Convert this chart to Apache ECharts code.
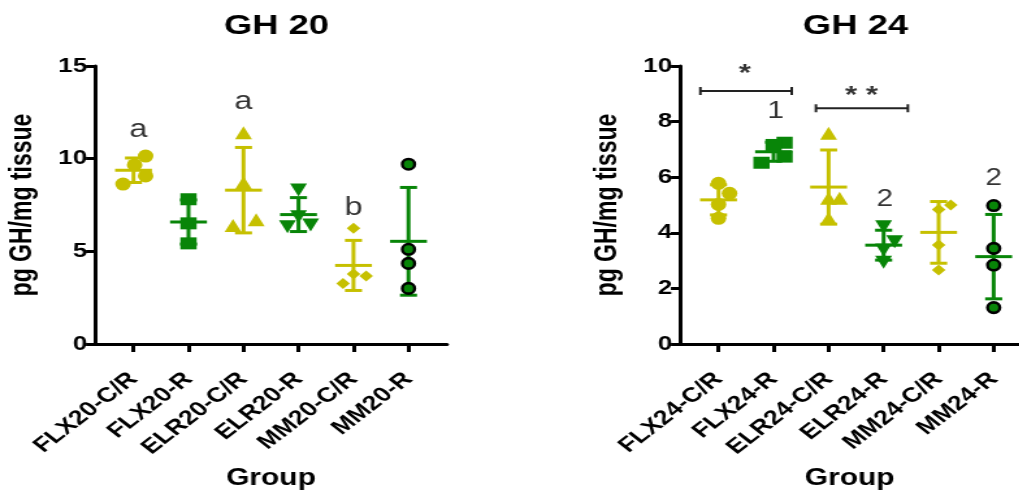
<!DOCTYPE html>
<html>
<head>
    <meta charset="utf-8">
    <title>GH 20 / GH 24</title>
    <script src="https://cdn.jsdelivr.net/npm/echarts@6/dist/echarts.min.js"></script>
    <style>
        body { margin: 0; overflow: hidden; background: #fff; }
        #main { height: 492px; transform-origin: 0 0; }
    </style>
</head>
<body>
<div id="main"></div>
<script type="text/javascript">
    // data
    var groups20 = ['FLX20-C/R', 'FLX20-R', 'ELR20-C/R', 'ELR20-R', 'MM20-C/R', 'MM20-R'];
    var groups24 = ['FLX24-C/R', 'FLX24-R', 'ELR24-C/R', 'ELR24-R', 'MM24-C/R', 'MM24-R'];

    var values20 = [
        [10.14, 9.66, 9.07, 8.63],
        [7.81, 6.51, 5.43],
        [11.4, 8.7, 6.4, 6.7],
        [8.31, 6.87, 6.33, 6.42],
        [6.24, 3.78, 3.27, 3.67],
        [9.70, 5.11, 4.35, 3.00]
    ];
    // horizontal scatter of the points, in category units
    var jitter20 = [
        [0.22, 0.02, 0.22, -0.19],
        [0, 0, 0],
        [0, 0, -0.19, 0.23],
        [0, 0, -0.2, 0.22],
        [0, 0, -0.19, 0.23],
        [0, 0, 0, 0]
    ];

    var values24 = [
        [5.78, 5.42, 5.02, 4.52],
        [7.24, 7.16, 6.74, 6.52],
        [7.58, 5.24, 5.24, 4.52],
        [4.22, 3.68, 3.38, 2.94],
        [5.00, 4.84, 3.56, 2.66],
        [4.98, 3.44, 2.84, 1.31]
    ];
    var jitter24 = [
        [0, 0.2, 0, 0],
        [0.2, 0, 0.2, -0.22],
        [0, 0, 0.2, 0],
        [0, 0.2, 0, 0],
        [0.22, 0, 0, 0],
        [0, 0, 0, 0]
    ];

    // letters / stars: [x, y, text]
    var notes20 = [[0.09, 11.55, 'a'], [2, 13.07, 'a'], [4, 7.32, 'b']];
    var notes24 = [[1.04, 8.36, '1'], [3.02, 5.18, '2'], [5, 5.96, '2']];
    var stars24 = [[0.48, 9.7, '*'], [2.6, 8.9, '* *']];
    // brackets: [x from, x to, y]
    var brackets24 = [[-0.33, 1.33, 9.10], [1.77, 3.44, 8.48]];

    var S = 1.3;                  // the picture is stretched sideways
    var W = 1019 / S;
    var px = function (v) { return v / S; };
    var YEL = '#c6c000';
    var GRN = '#088508';
    var FONT = "'Liberation Sans', Arial, sans-serif";
    var colors = [YEL, GRN, YEL, GRN, YEL, GRN];
    var symbols = ['circle', 'rect', 'triangle', 'path://M0,0 L10,0 L5,10 Z', 'diamond', 'circle'];
    var sizes = [[12, 13], [12.5, 12], [13, 13], [13, 13], [10.5, 11], [9.5, 10.5]];

    var mainEl = document.getElementById('main');
    mainEl.style.width = W + 'px';
    mainEl.style.transform = 'scaleX(' + S + ')';
    var myChart = echarts.init(mainEl);

    var meanSd = function (arr) {
        var m = arr.reduce(function (a, b) { return a + b; }, 0) / arr.length;
        var v = arr.reduce(function (a, b) { return a + (b - m) * (b - m); }, 0) / (arr.length - 1);
        return [m, Math.sqrt(v)];
    };

    var xAxisOf = function (idx, cats, max) {
        return {
            type: 'value', gridIndex: idx, min: -0.7, max: max,
            name: 'Group', nameLocation: 'middle', nameGap: 123,
            nameTextStyle: { fontSize: 23, fontWeight: 'bold', color: '#000', fontFamily: FONT },
            axisLine: { onZero: false, lineStyle: { color: '#000', width: 3 } },
            axisTick: { show: true, length: 8, lineStyle: { color: '#000', width: 3 }, customValues: [0, 1, 2, 3, 4, 5] },
            axisLabel: {
                customValues: [0, 1, 2, 3, 4, 5], rotate: 45, margin: 32,
                fontSize: 20.5, fontWeight: 'bold', color: '#000', fontFamily: FONT,
                formatter: function (v) { return cats[Math.round(v)]; }
            },
            splitLine: { show: false }
        };
    };
    var yAxisOf = function (idx, max, step) {
        return {
            type: 'value', gridIndex: idx, min: 0, max: max, interval: step,
            name: 'pg GH/mg tissue', nameLocation: 'middle', nameGap: 44,
            nameTextStyle: { fontSize: 23, fontWeight: 'bold', color: '#000', fontFamily: FONT },
            axisLine: { show: true, onZero: false, lineStyle: { color: '#000', width: 3 } },
            axisTick: { show: true, length: 7, lineStyle: { color: '#000', width: 3 } },
            axisLabel: { fontSize: 20, fontWeight: 'bold', color: '#000', margin: 6, fontFamily: FONT },
            splitLine: { show: false }
        };
    };

    var errorBars = function (idx, values) {
        var data = values.map(function (arr, i) {
            var ms = meanSd(arr);
            return [i, ms[0], ms[1], i];
        });
        return {
            type: 'custom', xAxisIndex: idx, yAxisIndex: idx, z: 1, silent: true,
            data: data,
            renderItem: function (params, api) {
                var x = api.value(0), m = api.value(1), sd = api.value(2);
                var c = colors[api.value(3)];
                var pm = api.coord([x, m]);
                var pt = api.coord([x, m + sd]);
                var pb = api.coord([x, m - sd]);
                var hm = api.coord([x + 0.335, m])[0] - pm[0];
                var hc = api.coord([x + 0.155, m])[0] - pm[0];
                var st = { stroke: c, lineWidth: 3 };
                var line = function (x1, y1, x2, y2) {
                    return { type: 'line', shape: { x1: x1, y1: y1, x2: x2, y2: y2 }, style: st };
                };
                return {
                    type: 'group', children: [
                        line(pm[0] - hm, pm[1], pm[0] + hm, pm[1]),
                        line(pt[0], pt[1], pb[0], pb[1]),
                        line(pt[0] - hc, pt[1], pt[0] + hc, pt[1]),
                        line(pb[0] - hc, pb[1], pb[0] + hc, pb[1])
                    ]
                };
            }
        };
    };

    var points = function (idx, values, jitter) {
        return values.map(function (arr, i) {
            return {
                type: 'scatter', xAxisIndex: idx, yAxisIndex: idx, z: 2, silent: true,
                symbol: symbols[i], symbolSize: sizes[i],
                itemStyle: i === 5
                    ? { color: GRN, borderColor: '#000', borderWidth: 2.5, opacity: 1 }
                    : { color: colors[i], opacity: 1 },
                data: arr.map(function (v, k) { return [i + jitter[i][k], v]; })
            };
        });
    };

    var notes = function (idx, list, size, weight) {
        return {
            type: 'scatter', xAxisIndex: idx, yAxisIndex: idx, z: 3, silent: true,
            symbolSize: 0,
            label: { show: true, position: 'inside', formatter: '{b}', fontSize: size, fontWeight: weight, color: '#000', fontFamily: FONT },
            data: list.map(function (n) { return { value: [n[0], n[1]], name: n[2] }; })
        };
    };

    var bracketSeries = {
        type: 'custom', xAxisIndex: 1, yAxisIndex: 1, z: 3, silent: true,
        data: brackets24,
        renderItem: function (params, api) {
            var a = api.coord([api.value(0), api.value(2)]);
            var b = api.coord([api.value(1), api.value(2)]);
            var st = { stroke: '#222', lineWidth: 2 };
            return {
                type: 'group', children: [
                    { type: 'line', shape: { x1: a[0], y1: a[1], x2: b[0], y2: b[1] }, style: st },
                    { type: 'line', shape: { x1: a[0], y1: a[1] - 4, x2: a[0], y2: a[1] + 4 }, style: st },
                    { type: 'line', shape: { x1: b[0], y1: b[1] - 4, x2: b[0], y2: b[1] + 4 }, style: st }
                ]
            };
        }
    };

    var option = {
        animation: false,
        textStyle: { fontFamily: FONT },
        title: [
            { text: 'GH 20', left: px(270), top: 7, textAlign: 'center', textStyle: { fontSize: 28, fontWeight: 'bold', color: '#000', fontFamily: FONT } },
            { text: 'GH 24', left: px(849), top: 7, textAlign: 'center', textStyle: { fontSize: 28, fontWeight: 'bold', color: '#000', fontFamily: FONT } }
        ],
        grid: [
            { left: px(95), top: 66, width: px(352), height: 278, outerBoundsMode: 'none', containLabel: false },
            { left: px(680), top: 66, right: 0, height: 278, outerBoundsMode: 'none', containLabel: false }
        ],
        xAxis: [xAxisOf(0, groups20, 5.7), xAxisOf(1, groups24, -0.7 + (1019 - 680) / 55)],
        yAxis: [yAxisOf(0, 15, 5), yAxisOf(1, 10, 2)],
        series: [errorBars(0, values20), errorBars(1, values24)]
            .concat(points(0, values20, jitter20))
            .concat(points(1, values24, jitter24))
            .concat([notes(0, notes20, 25, 'normal'), notes(1, notes24, 23, 'normal'), notes(1, stars24, 24, 'bold'), bracketSeries])
    };
    myChart.setOption(option);
</script>
</body>
</html>
